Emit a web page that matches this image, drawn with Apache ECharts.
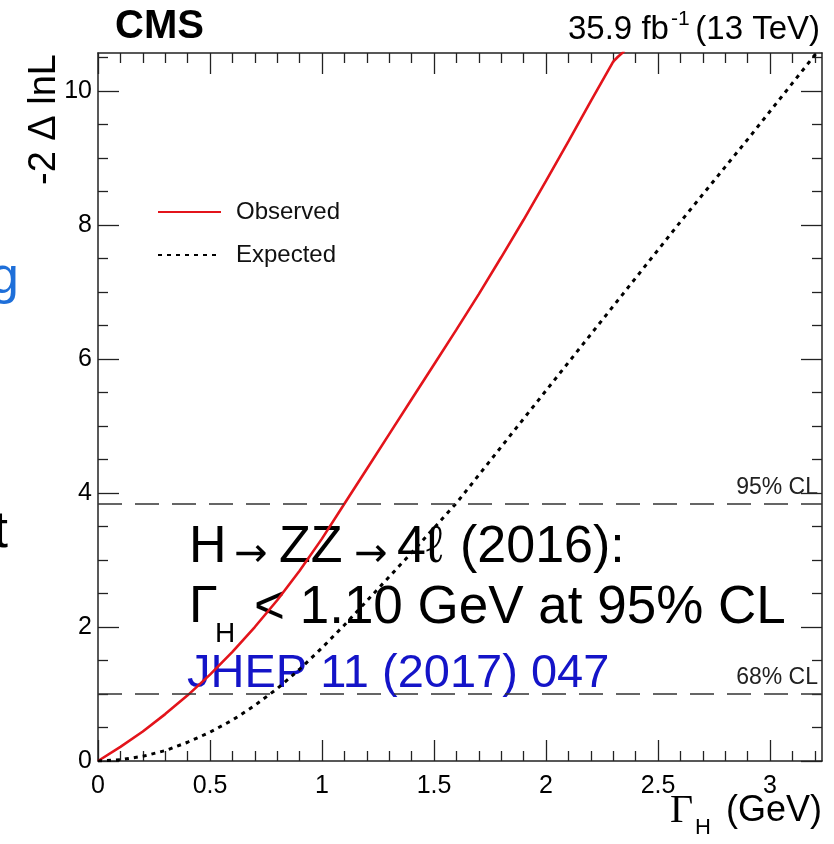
<!DOCTYPE html>
<html>
<head>
<meta charset="utf-8">
<script src="https://cdn.jsdelivr.net/npm/echarts@6/dist/echarts.min.js"></script>
<style>
html,body{margin:0;padding:0;background:#fff;}
#c{width:834px;height:844px;}
</style>
</head>
<body>
<div id="c"></div>
<script>
// ---- data ----
const xObs = [0,0.1,0.2,0.3,0.4,0.5,0.6,0.7,0.8,0.9,1.0,1.1,1.2,1.3,1.4,1.5,1.6,1.7,1.8,1.9,2.0,2.1,2.2,2.3,2.32,2.35];
const observed = [0,0.21,0.44,0.70,0.98,1.29,1.63,2.00,2.40,2.84,3.32,3.84,4.36,4.88,5.40,5.92,6.44,6.97,7.52,8.08,8.66,9.25,9.85,10.44,10.51,10.60];
const xExp = [0,0.1,0.2,0.3,0.4,0.5,0.6,0.7,0.8,0.9,1.0,1.1,1.2,1.3,1.4,1.5,1.6,1.7,1.8,1.9,2.0,2.1,2.2,2.3,2.4,2.5,2.6,2.7,2.8,2.9,3.0,3.1,3.2,3.24];
const expected = [0,0.02,0.07,0.155,0.28,0.43,0.61,0.83,1.08,1.37,1.69,2.03,2.39,2.75,3.11,3.48,3.85,4.27,4.69,5.11,5.53,5.95,6.37,6.79,7.21,7.63,8.05,8.46,8.87,9.28,9.70,10.12,10.54,10.70];
const clLevels = [3.84, 1];
const clLabels = ['95% CL', '68% CL'];
const xTickLabels = [0,0.5,1,1.5,2,2.5,3];
const yTickLabels = [0,2,4,6,8,10];
const X_MAX = 3.232, Y_MAX = 10.57;

const xMinor = [], yMinor = [];
for (let i = 1; i <= 32; i++) { if (i % 5) xMinor.push(+(i*0.1).toFixed(2)); }
for (let i = 1; i <= 21; i++) { if (i % 4) yMinor.push(+(i*0.5).toFixed(2)); }

const SANS = '"Liberation Sans", Arial, Helvetica, sans-serif';
const SERIF = '"Liberation Serif", "DejaVu Serif", serif';
const DJV = '"DejaVu Sans", sans-serif';
const AX = '#222';

function xAx(pos, major, showLabel, showLine) {
  return {
    type:'value', position:pos, min:0, max:X_MAX,
    axisLine:{show:showLine, onZero:false, lineStyle:{color:AX, width:1.5}},
    axisTick:{show:true, inside:true, length: major?21:10, customValues: major?xTickLabels:xMinor, lineStyle:{color:AX, width:1.3}},
    axisLabel:{show:showLabel, customValues:xTickLabels, fontSize:25, color:'#000', fontFamily:SANS, margin:13},
    splitLine:{show:false}, minorTick:{show:false}
  };
}
function yAx(pos, major, showLabel, showLine) {
  return {
    type:'value', position:pos, min:0, max:Y_MAX,
    axisLine:{show:showLine, onZero:false, lineStyle:{color:AX, width:1.5}},
    axisTick:{show:true, inside:true, length: major?21:10, customValues: major?yTickLabels:yMinor, lineStyle:{color:AX, width:1.3}},
    axisLabel:{show:showLabel, customValues:yTickLabels, fontSize:25, color:'#000', fontFamily:SANS, margin:6},
    splitLine:{show:false}, minorTick:{show:false}
  };
}
function txt(x, y, s, font, fill, align, extra) {
  return Object.assign({type:'text', x:x, y:y, style:{text:s, font:font, fill:fill||'#000', textAlign:align||'left', textVerticalAlign:'middle'}}, extra||{});
}

const chart = echarts.init(document.getElementById('c'), null, {renderer:'canvas'});

const graphics = [
  txt(19, 279, 'g', '52px '+SANS, '#1e6fd9', 'right'),
  txt(8, 533, 't', '52px '+SANS, '#000', 'right'),
  txt(115, 27, 'CMS', 'bold 40px '+SANS),
  txt(568, 30, '35.9 fb', '33px '+SANS),
  txt(671, 19, '-1', '21px '+SANS),
  txt(820, 30, '(13 TeV)', '33px '+SANS, '#000', 'right'),
  txt(45, 54, '-2 \u0394 lnL', '38px '+SANS, '#000', 'right', {rotation:Math.PI/2}),
  txt(670, 811, '\u0393', '40px '+SERIF),
  txt(695, 828, 'H', '22px '+SANS),
  txt(822, 811, '(GeV)', '36px '+SANS, '#000', 'right'),
  // annotation
  txt(189, 548, 'H', '52px '+SANS),
  txt(251, 556, '\u2192', '40px '+DJV, '#000', 'center'),
  txt(279, 548, 'ZZ', '52px '+SANS),
  txt(371, 556, '\u2192', '40px '+DJV, '#000', 'center'),
  txt(397, 548, '4\u2113', '52px '+SANS),
  txt(460, 548, '(2016):', '52px '+SANS),
  txt(189, 608, '\u0393', '52px '+SANS),
  txt(215, 634, 'H', '28px '+SANS),
  txt(254, 608, '< 1.10 GeV at 95% CL', '53px '+SANS),
  txt(187, 674, 'JHEP 11 (2017) 047', '47px '+SANS, '#1414c8')
];

const option = {
  backgroundColor:'#fff',
  animation:false,
  grid:{left:98, right:12, top:53, bottom:83, containLabel:false},
  xAxis:[ xAx('bottom',true,true,true), xAx('bottom',false,false,false), xAx('top',true,false,true), xAx('top',false,false,false) ],
  yAxis:[ yAx('left',true,true,true), yAx('left',false,false,false), yAx('right',true,false,true), yAx('right',false,false,false) ],
  legend:{
    orient:'vertical', left:157, top:200, padding:0, itemWidth:63, itemHeight:14, itemGap:19,
    selectedMode:false,
    itemStyle:{opacity:0, borderWidth:0},
    textStyle:{fontSize:24, color:'#111', fontFamily:SANS, padding:[0,0,0,10]},
    data:['Observed','Expected']
  },
  series:[
    {
      name:'Observed', type:'line', xAxisIndex:0, yAxisIndex:0, symbol:'none', smooth:false,
      lineStyle:{color:'#e3141b', width:2.6}, itemStyle:{color:'#e3141b'},
      data: xObs.map((x,i)=>[x, observed[i]]),
      markLine:{
        silent:true, symbol:'none',
        lineStyle:{color:'#333', width:1.5, type:[24,13]},
        label:{position:'insideEndTop', fontSize:23, color:'#222', fontFamily:SANS, distance:[4,5]},
        data: clLevels.map((v,i)=>({yAxis:v, label:{formatter:clLabels[i]}}))
      }
    },
    {
      name:'Expected', type:'line', xAxisIndex:0, yAxisIndex:0, symbol:'none', smooth:false,
      lineStyle:{color:'#000', width:3, type:[4,5]}, itemStyle:{color:'#000'},
      data: xExp.map((x,i)=>[x, expected[i]])
    }
  ],
  graphic: graphics
};
chart.setOption(option);
</script>
</body>
</html>
